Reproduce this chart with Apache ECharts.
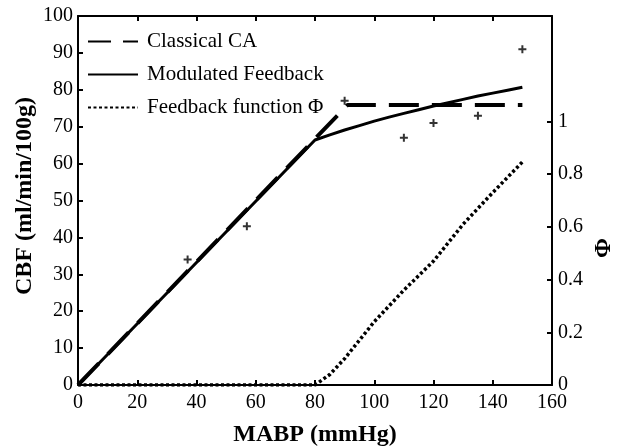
<!DOCTYPE html>
<html><head><meta charset="utf-8">
<script src="https://cdn.jsdelivr.net/npm/echarts@6/dist/echarts.min.js"></script>
<style>html,body{margin:0;padding:0;background:#fff}#c{width:623px;height:446px}</style>
</head><body><div id="c"></div>
<script>
// Data
const measuredMABP = [37, 57, 90, 110, 120, 135, 150];
const measuredCBF  = [34, 43, 77, 67, 71, 73, 91];

const classicalMABP = [0, 91, 150];
const classicalCBF  = [0, 75.9, 75.9];

const modulatedMABP = [0, 80, 85, 90, 95, 100, 105, 110, 115, 120, 125, 130, 135, 140, 145, 150];
const modulatedCBF  = [0, 66.4, 67.8, 69.1, 70.3, 71.5, 72.6, 73.6, 74.6, 75.6, 76.5, 77.4, 78.3, 79.1, 79.9, 80.7];

const phiMABP = [0, 80, 85, 90, 95, 100, 110, 120, 130, 140, 150];
const phiVals = [0, 0, 0.04, 0.10, 0.17, 0.24, 0.36, 0.47, 0.61, 0.73, 0.846];

const xTicks = [0, 20, 40, 60, 80, 100, 120, 140, 160];
const phiTicks = [0, 0.2, 0.4, 0.6, 0.8, 1];

const zip = (a, b) => a.map((v, i) => [v, b[i]]);
const font = 'Liberation Serif, Times New Roman, serif';
const plus = 'path://M3.75,0H6.25V3.75H10V6.25H6.25V10H3.75V6.25H0V3.75H3.75Z';

const chart = echarts.init(document.getElementById('c'), null, {renderer: 'canvas'});
const axisLine = {show: true, onZero: false, lineStyle: {color: '#000', width: 2}};
const axisTick = {show: true, inside: true, length: 5, lineStyle: {color: '#000', width: 2}};
const label = {color: '#000', fontFamily: font, fontSize: 20};
chart.setOption({
  animation: false,
  grid: {left: 78, right: 71, top: 16, bottom: 61, containLabel: false, outerBoundsMode: 'none'},
  legend: {
    left: 87, top: 31, padding: 0, orient: 'vertical', itemWidth: 50, itemHeight: 14, itemGap: 12,
    itemStyle: {opacity: 0},
    textStyle: {color: '#000', fontFamily: font, fontSize: 21, padding: [0, 0, 0, 4]},
    data: [
      {name: 'Classical CA', lineStyle: {type: [23, 12]}},
      {name: 'Modulated Feedback'},
      {name: 'Feedback function Φ'}
    ]
  },
  xAxis: [{
    type: 'value', min: 0, max: 160, interval: 20,
    axisLine, axisTick, splitLine: {show: false},
    axisLabel: Object.assign({margin: 8, customValues: xTicks}, label),
    name: 'MABP (mmHg)', nameLocation: 'middle', nameGap: 38,
    nameTextStyle: {color: '#000', fontFamily: font, fontSize: 24, fontWeight: 'bold'}
  }, {
    type: 'value', min: 0, max: 160, interval: 20, position: 'top',
    axisLine, axisTick, axisLabel: {show: false}, splitLine: {show: false}
  }],
  yAxis: [{
    type: 'value', min: 0, max: 100, interval: 10,
    axisLine, axisTick, splitLine: {show: false},
    axisLabel: Object.assign({margin: 5}, label)
  }, {
    type: 'value', min: 0, max: 1.4, interval: 0.2, position: 'right',
    axisLine, splitLine: {show: false},
    axisTick: Object.assign({customValues: phiTicks}, axisTick),
    axisLabel: Object.assign({margin: 6, customValues: phiTicks, formatter: v => String(+v.toFixed(1))}, label)
  }],
  graphic: [{
    type: 'text', x: 25, y: 196, rotation: Math.PI / 2,
    style: {text: 'CBF (ml/min/100g)', fill: '#000', font: 'bold 24px ' + font, textAlign: 'center', textVerticalAlign: 'middle'}
  }, {
    type: 'text', x: 604, y: 248, rotation: Math.PI / 2,
    style: {text: 'Φ', fill: '#000', font: 'bold 24px ' + font, textAlign: 'center', textVerticalAlign: 'middle'}
  }],
  series: [{
    name: 'Classical CA', type: 'line', data: zip(classicalMABP, classicalCBF),
    showSymbol: false, itemStyle: {color: '#000'},
    lineStyle: {color: '#000', width: 4, type: [30, 13], cap: 'butt'}, z: 3
  }, {
    name: 'Modulated Feedback', type: 'line', data: zip(modulatedMABP, modulatedCBF),
    showSymbol: false, itemStyle: {color: '#000'},
    lineStyle: {color: '#000', width: 3}, z: 4
  }, {
    name: 'Feedback function Φ', type: 'line', yAxisIndex: 1, data: zip(phiMABP, phiVals),
    showSymbol: false, itemStyle: {color: '#000'},
    lineStyle: {color: '#000', width: 3.5, type: [3, 2.5], cap: 'butt'}, z: 4
  }, {
    name: 'measured', type: 'scatter', data: zip(measuredMABP, measuredCBF),
    symbol: plus, symbolSize: 8, itemStyle: {color: '#000'}, z: 5
  }]
});
</script></body></html>
